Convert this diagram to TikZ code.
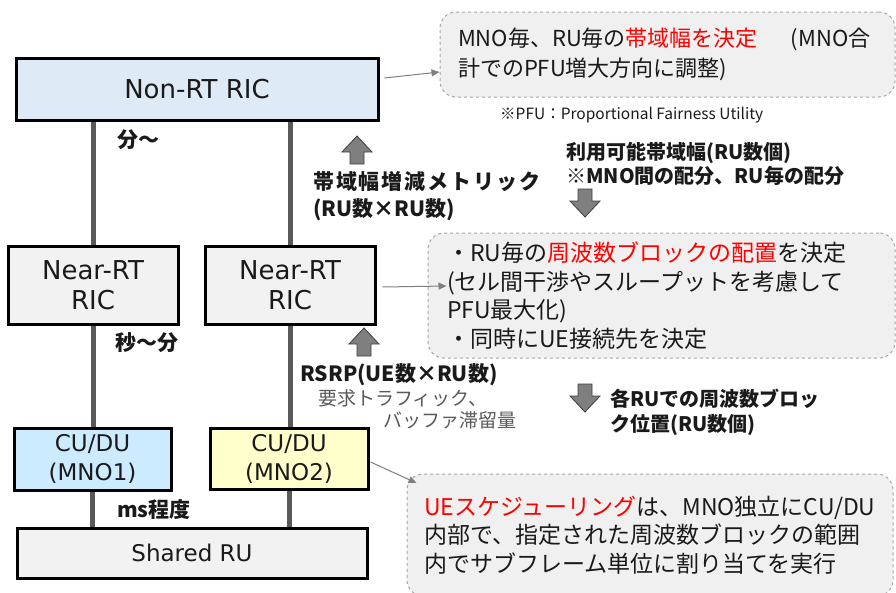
\documentclass[tikz,border=0pt]{standalone}
\usepackage{fontspec}
\setmainfont{Noto Sans CJK JP}
\newfontfamily\latinfont{DejaVu Sans}
\usetikzlibrary{arrows.meta,backgrounds}
\definecolor{nonrtblue}{HTML}{DEEBF7}
\definecolor{nearfill}{HTML}{F2F2F2}
\definecolor{mnoblue}{HTML}{CCEBFF}
\definecolor{mnoyellow}{HTML}{FFFFCC}
\definecolor{linegray}{HTML}{595959}
\definecolor{calloutfill}{HTML}{F0F0F0}
\definecolor{calloutdraw}{HTML}{A6A6A6}
\definecolor{txt}{HTML}{1A1A1A}
\definecolor{subtxt}{HTML}{595959}
\definecolor{arrfill}{HTML}{7F7F7F}
\definecolor{arrdraw}{HTML}{3F3F3F}
\definecolor{redtxt}{HTML}{FF0000}
\begin{document}
\begin{tikzpicture}[x=1pt,y=-1pt,
  box/.style={draw=black, line width=3pt, inner sep=0pt, align=center, text=txt, font=\latinfont\fontsize{23}{29}\selectfont},
  bigtxt/.style={font=\latinfont\fontsize{26}{30}\selectfont},
  vline/.style={draw=linegray, line width=5pt},
  callout/.style={draw=calloutdraw, dashed, line width=1pt, fill=calloutfill, rounded corners=16pt, align=left, text=txt, inner ysep=0pt},
  callarrow/.style={draw=arrfill, line width=1pt, -{Triangle[length=8pt,width=7pt]}},
  lbl/.style={inner sep=0pt, anchor=west, align=left, text=txt, font=\bfseries\fontsize{20}{24}\selectfont},
  blockarr/.style={fill=arrfill, draw=arrdraw, line width=0.8pt, line join=miter},
  uparrow/.pic={\draw[blockarr] (0,-14) -- (15,2) -- (7,2) -- (7,14) -- (-7,14) -- (-7,2) -- (-15,2) -- cycle;},
  downarrow/.pic={\draw[blockarr] (0,14) -- (15,-2) -- (7,-2) -- (7,-14) -- (-7,-14) -- (-7,-2) -- (-15,-2) -- cycle;}
]
\useasboundingbox (0,0) rectangle (896,592);

% main boxes
\node[box, bigtxt, fill=nonrtblue, minimum width=362pt, minimum height=62pt] (nonrt) at (197,89) {Non-RT RIC};
\node[box, bigtxt, fill=nearfill, minimum width=170pt, minimum height=78pt] (nearL) at (93,285) {Near-RT\\RIC};
\node[box, bigtxt, fill=nearfill, minimum width=170pt, minimum height=78pt] (nearR) at (290,285) {Near-RT\\RIC};
\node[box, fill=mnoblue, minimum width=157pt, minimum height=62pt] (cuL) at (92.5,459) {CU/DU\\(MNO1)};
\node[box, fill=mnoyellow, minimum width=158pt, minimum height=61pt] (cuR) at (289,458.5) {CU/DU\\(MNO2)};
\node[box, fill=nearfill, minimum width=350pt, minimum height=50pt] (shared) at (192,553) {Shared RU};

\begin{scope}[on background layer]
\draw[vline] (nearL.north |- nonrt.south) -- (nearL.north);
\draw[vline] (nearL.south) -- (nearL.south |- cuL.north);
\draw[vline] (cuL.south) -- (cuL.south |- shared.north);
\draw[vline] (nearR.north |- nonrt.south) -- (nearR.north);
\draw[vline] (nearR.south) -- (nearR.south |- cuR.north);
\draw[vline] (cuR.south) -- (cuR.south |- shared.north);
\end{scope}

% timing labels
\node[lbl, font=\bfseries\fontsize{21}{26}\selectfont] (tmin) at (117,140) {分～};
\node[lbl, font=\bfseries\fontsize{21}{26}\selectfont] (tsec) at (115,343) {秒～分};
\node[lbl, font=\bfseries\fontsize{21}{26}\selectfont] (tms) at (117,510) {ms程度};

% metric labels
\node[lbl, font=\bfseries\fontsize{21}{27}\selectfont] (metric) at (313,196.5) {{\addfontfeature{LetterSpace=9}帯域幅増減メトリック}\\(RU数×RU数)};
\node[lbl] (avail) at (566,164) {利用可能帯域幅(RU数個)\\※MNO間の配分、RU毎の配分};
\node[lbl, font=\bfseries\fontsize{21}{26}\selectfont] (rsrp) at (300,375) {RSRP(UE数×RU数)};
\node[lbl, text=subtxt, font=\fontsize{19}{22}\selectfont] (traffic) at (318,398) {要求トラフィック、};
\node[lbl, text=subtxt, font=\fontsize{19}{22}\selectfont] (buffer) at (383,420) {バッファ滞留量};
\node[lbl, font=\bfseries\fontsize{20}{25}\selectfont] (freqpos) at (610,412.5) {各RUでの周波数ブロッ\\ク位置(RU数個)};
\node[lbl, font=\fontsize{15.5}{18}\selectfont] (pfu) at (500,115) {※PFU：Proportional Fairness Utility};

% block arrows
\pic at (357,150) {uparrow};
\pic at (364,342) {uparrow};
\pic at (585,203) {downarrow};
\pic at (585,398) {downarrow};

% callouts
\node[callout, font=\fontsize{22}{30}\selectfont, text width=419pt, inner xsep=18pt, minimum height=85pt] (c1) at (667.5,54.5)
  {MNO毎、RU毎の\textcolor{redtxt}{帯域幅を決定}\hspace{1.5em}(MNO合\\計でのPFU増大方向に調整)};
\node[callout, font=\fontsize{23}{28.5}\selectfont, text width=429pt, inner xsep=19pt, minimum height=125pt] (c2) at (661.5,295.5)
  {・RU毎の\textcolor{redtxt}{周波数ブロックの配置}を決定\\(セル間干渉やスループットを考慮して\\PFU最大化)\\・同時にUE接続先を決定};
\node[callout, font=\fontsize{23}{28.5}\selectfont, text width=452pt, inner xsep=17pt, minimum height=122pt] (c3) at (650,535)
  {\textcolor{redtxt}{UEスケジューリング}は、MNO独立にCU/DU\\内部で、指定された周波数ブロックの範囲\\内でサブフレーム単位に割り当てを実行};

% callout arrows
\draw[callarrow] ([xshift=5pt,yshift=11pt]nonrt.east) -- ([yshift=-17.5pt]c1.west);
\draw[callarrow] ([xshift=6pt,yshift=-2pt]nearR.east) -- ([xshift=19pt,yshift=9.5pt]c2.west);
\draw[callarrow] ([xshift=1pt,yshift=-3.5pt]cuR.east) -- ([xshift=10pt,yshift=52pt]c3.west);
\end{tikzpicture}
\end{document}
